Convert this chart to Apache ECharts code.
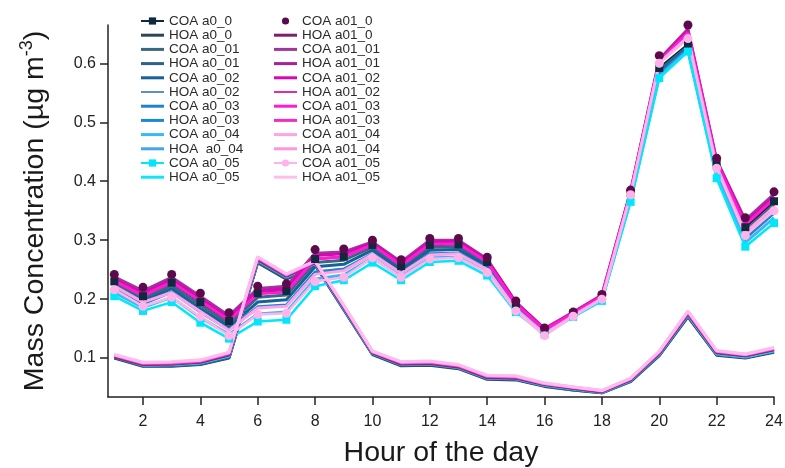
<!DOCTYPE html>
<html>
<head>
<meta charset="utf-8">
<script src="https://cdn.jsdelivr.net/npm/echarts@6/dist/echarts.min.js"></script>
<style>
  html, body { margin: 0; padding: 0; background: #fff; }
  #chart { width: 785px; height: 468px; }
</style>
</head>
<body>
<div id="chart"></div>
<script>
// Diurnal profiles of COA and HOA factors for each solution (hour 1..24)
const hours = [1,2,3,4,5,6,7,8,9,10,11,12,13,14,15,16,17,18,19,20,21,22,23,24];
const xTicks = [2,4,6,8,10,12,14,16,18,20,22,24];
const yTicks = [0.1,0.2,0.3,0.4,0.5,0.6];

const coaA0_0  = [0.230,0.205,0.228,0.195,0.163,0.210,0.214,0.268,0.272,0.292,0.256,0.292,0.293,0.263,0.192,0.148,0.176,0.205,0.380,0.592,0.632,0.430,0.322,0.366];
const hoaA0_0  = [0.100,0.086,0.086,0.089,0.100,0.262,0.234,0.258,0.182,0.106,0.087,0.088,0.082,0.064,0.063,0.052,0.046,0.041,0.060,0.104,0.170,0.105,0.100,0.110];
const coaA0_01 = [0.226,0.201,0.223,0.190,0.158,0.203,0.207,0.262,0.266,0.288,0.253,0.288,0.289,0.260,0.190,0.147,0.175,0.204,0.377,0.588,0.629,0.425,0.316,0.360];
const hoaA0_01 = [0.101,0.087,0.087,0.090,0.101,0.263,0.235,0.259,0.183,0.107,0.088,0.089,0.083,0.065,0.064,0.053,0.046,0.041,0.061,0.105,0.171,0.106,0.101,0.111];
const coaA0_02 = [0.222,0.197,0.218,0.184,0.153,0.195,0.199,0.255,0.259,0.283,0.249,0.283,0.284,0.256,0.188,0.146,0.174,0.203,0.374,0.585,0.627,0.420,0.310,0.353];
const hoaA0_02 = [0.101,0.087,0.088,0.091,0.102,0.264,0.236,0.259,0.183,0.107,0.088,0.089,0.083,0.065,0.064,0.053,0.047,0.042,0.061,0.106,0.172,0.106,0.101,0.111];
const coaA0_03 = [0.217,0.192,0.212,0.178,0.148,0.187,0.190,0.246,0.251,0.277,0.244,0.277,0.278,0.252,0.185,0.144,0.173,0.201,0.371,0.582,0.625,0.415,0.303,0.346];
const hoaA0_03 = [0.102,0.088,0.088,0.091,0.103,0.265,0.237,0.260,0.184,0.108,0.089,0.090,0.084,0.066,0.065,0.054,0.047,0.042,0.062,0.106,0.173,0.107,0.102,0.112];
const coaA0_04 = [0.211,0.186,0.203,0.169,0.140,0.175,0.178,0.234,0.241,0.270,0.238,0.270,0.271,0.246,0.181,0.142,0.171,0.199,0.368,0.578,0.622,0.410,0.296,0.338];
const hoaA0_04 = [0.102,0.088,0.089,0.092,0.104,0.266,0.238,0.261,0.185,0.108,0.089,0.090,0.084,0.066,0.065,0.054,0.048,0.042,0.062,0.107,0.173,0.107,0.102,0.112];
const coaA0_05 = [0.205,0.180,0.195,0.160,0.133,0.162,0.165,0.222,0.232,0.262,0.232,0.263,0.265,0.240,0.178,0.140,0.170,0.197,0.365,0.575,0.620,0.405,0.289,0.329];
const hoaA0_05 = [0.103,0.089,0.089,0.092,0.104,0.266,0.238,0.261,0.185,0.109,0.090,0.091,0.085,0.067,0.066,0.055,0.048,0.043,0.063,0.107,0.174,0.108,0.103,0.113];

const coaA01_0  = [0.242,0.220,0.242,0.210,0.177,0.222,0.226,0.284,0.285,0.300,0.267,0.303,0.303,0.271,0.197,0.151,0.178,0.208,0.385,0.613,0.665,0.439,0.338,0.382];
const hoaA01_0  = [0.102,0.089,0.090,0.093,0.105,0.267,0.239,0.262,0.186,0.109,0.090,0.091,0.085,0.067,0.066,0.055,0.049,0.043,0.063,0.108,0.175,0.109,0.104,0.114];
const coaA01_01 = [0.238,0.214,0.237,0.205,0.172,0.218,0.222,0.278,0.280,0.297,0.263,0.300,0.300,0.268,0.195,0.150,0.178,0.207,0.383,0.607,0.658,0.436,0.334,0.378];
const hoaA01_01 = [0.103,0.090,0.090,0.094,0.106,0.268,0.240,0.262,0.187,0.110,0.091,0.092,0.086,0.068,0.067,0.056,0.049,0.043,0.064,0.109,0.176,0.110,0.104,0.115];
const coaA01_02 = [0.234,0.210,0.233,0.201,0.168,0.214,0.218,0.274,0.277,0.295,0.260,0.297,0.298,0.266,0.194,0.149,0.177,0.206,0.382,0.604,0.655,0.434,0.330,0.374];
const hoaA01_02 = [0.104,0.090,0.091,0.094,0.107,0.269,0.240,0.263,0.187,0.110,0.092,0.093,0.087,0.069,0.068,0.056,0.050,0.044,0.064,0.110,0.177,0.111,0.105,0.116];
const coaA01_03 = [0.231,0.206,0.229,0.197,0.164,0.209,0.212,0.268,0.272,0.292,0.257,0.293,0.294,0.263,0.192,0.148,0.176,0.205,0.381,0.603,0.652,0.432,0.326,0.370];
const hoaA01_03 = [0.105,0.091,0.092,0.095,0.108,0.270,0.241,0.264,0.188,0.111,0.092,0.093,0.087,0.069,0.068,0.057,0.050,0.044,0.065,0.110,0.178,0.111,0.106,0.116];
const coaA01_04 = [0.222,0.195,0.211,0.179,0.147,0.185,0.188,0.242,0.248,0.276,0.244,0.275,0.277,0.250,0.183,0.141,0.172,0.201,0.378,0.601,0.645,0.425,0.313,0.356];
const hoaA01_04 = [0.105,0.092,0.093,0.096,0.109,0.271,0.242,0.264,0.189,0.111,0.093,0.094,0.088,0.070,0.069,0.057,0.051,0.045,0.065,0.111,0.179,0.112,0.106,0.117];
const coaA01_05 = [0.216,0.188,0.203,0.170,0.138,0.174,0.176,0.230,0.237,0.270,0.237,0.268,0.270,0.245,0.180,0.138,0.171,0.200,0.377,0.600,0.642,0.422,0.308,0.350];
const hoaA01_05 = [0.106,0.093,0.094,0.097,0.110,0.272,0.243,0.265,0.190,0.112,0.094,0.095,0.089,0.071,0.070,0.058,0.051,0.045,0.066,0.112,0.180,0.113,0.107,0.118];

// name, values, colour, line width, marker
const traces = [
  ['COA a0_0',   coaA0_0,   '#10293f', 2.5, 'rect'],
  ['HOA a0_0',   hoaA0_0,   '#2c4656', 3,   null],
  ['COA a0_01',  coaA0_01,  '#3b6783', 3,   null],
  ['HOA a0_01',  hoaA0_01,  '#2e6386', 3,   null],
  ['COA a0_02',  coaA0_02,  '#17609a', 3,   null],
  ['HOA a0_02',  hoaA0_02,  '#2b6c9c', 1.5, null],
  ['COA a0_03',  coaA0_03,  '#2283c9', 3,   null],
  ['HOA a0_03',  hoaA0_03,  '#1d88cf', 3,   null],
  ['COA a0_04',  coaA0_04,  '#3ab8f2', 3,   null],
  ['HOA  a0_04', hoaA0_04,  '#43a6e6', 3,   null],
  ['COA a0_05',  coaA0_05,  '#00e6fb', 2.5, 'rect'],
  ['HOA a0_05',  hoaA0_05,  '#10e4fa', 3,   null],
  ['COA a01_0',  coaA01_0,  '#5c0a4c', 0,   'circle'],
  ['HOA a01_0',  hoaA01_0,  '#7d1f6c', 3,   null],
  ['COA a01_01', coaA01_01, '#a0359a', 3,   null],
  ['HOA a01_01', hoaA01_01, '#a6219a', 3,   null],
  ['COA a01_02', coaA01_02, '#d309b3', 3,   null],
  ['HOA a01_02', hoaA01_02, '#d92cb9', 2,   null],
  ['COA a01_03', coaA01_03, '#ff1cd0', 3,   null],
  ['HOA a01_03', hoaA01_03, '#f52bc8', 3,   null],
  ['COA a01_04', coaA01_04, '#ffa3e8', 3,   null],
  ['HOA a01_04', hoaA01_04, '#ff94df', 3,   null],
  ['COA a01_05', coaA01_05, '#ffb3ea', 2.5, 'circle'],
  ['HOA a01_05', hoaA01_05, '#ffbdee', 3,   null]
];

const font = '"Liberation Sans", Arial, sans-serif';

const series = traces.map(([name, vals, color, width, marker]) => ({
  name: name,
  type: 'line',
  data: hours.map((h, i) => [h, vals[i]]),
  symbol: marker || 'none',
  symbolSize: marker === 'circle' ? 9 : 8,
  showSymbol: !!marker,
  itemStyle: { color: color },
  lineStyle: { color: color, width: width },
  emphasis: { disabled: true },
  animation: false
}));

// Plain line swatch for traces without markers (bar of the trace's width)
function legendItem(t) {
  const [name, , , width, marker] = t;
  if (marker) return { name: name };
  const h = width;
  return { name: name, icon: 'path://M0,0h' + (23 * 3 / h) + 'v3h-' + (23 * 3 / h) + 'z' };
}

const legendText = { fontFamily: font, fontSize: 13.5, color: '#2a2a2a', lineHeight: 14 };

const option = {
  backgroundColor: '#ffffff',
  grid: { left: 108, right: 11, top: 25, bottom: 71, containLabel: false, outerBoundsMode: 'none' },
  legend: [
    {
      orient: 'vertical', left: 135, top: 9, padding: 5,
      itemWidth: 23, itemHeight: 9, itemGap: 0.2,
      textStyle: legendText, selectedMode: false,
      data: traces.slice(0, 12).map(legendItem)
    },
    {
      orient: 'vertical', left: 268, top: 9, padding: 5,
      itemWidth: 23, itemHeight: 9, itemGap: 0.2,
      textStyle: legendText, selectedMode: false,
      data: traces.slice(12).map(legendItem)
    }
  ],
  xAxis: {
    type: 'value', min: 0.78, max: 24,
    name: 'Hour of the day', nameLocation: 'middle', nameGap: 42,
    nameTextStyle: { fontFamily: font, fontSize: 28.5, color: '#1a1a1a' },
    axisLine: { show: true, onZero: false, lineStyle: { color: '#222', width: 1.5 } },
    axisTick: { show: true, inside: false, length: 8, customValues: xTicks, lineStyle: { color: '#222', width: 1.5 } },
    axisLabel: { customValues: xTicks, margin: 17, fontFamily: font, fontSize: 16, color: '#222' },
    splitLine: { show: false }
  },
  yAxis: {
    type: 'value', min: 0.034, max: 0.665,
    name: 'Mass Concentration (µg m{sup|-3})', nameLocation: 'middle', nameGap: 56,
    nameRotate: 90,
    nameTextStyle: {
      fontFamily: font, fontSize: 28.5, color: '#1a1a1a',
      rich: { sup: { fontFamily: font, fontSize: 18, color: '#1a1a1a', verticalAlign: 'top', padding: [0, 0, 16, 0] } }
    },
    axisLine: { show: true, onZero: false, lineStyle: { color: '#222', width: 1.5 } },
    axisTick: { show: true, inside: false, length: 8, customValues: yTicks, lineStyle: { color: '#222', width: 1.5 } },
    axisLabel: { customValues: yTicks, margin: 12, fontFamily: font, fontSize: 16, color: '#222', formatter: v => v.toFixed(1) },
    splitLine: { show: false }
  },
  series: series
};

const chart = echarts.init(document.getElementById('chart'), null, { renderer: 'canvas' });
chart.setOption(option);
</script>
</body>
</html>
